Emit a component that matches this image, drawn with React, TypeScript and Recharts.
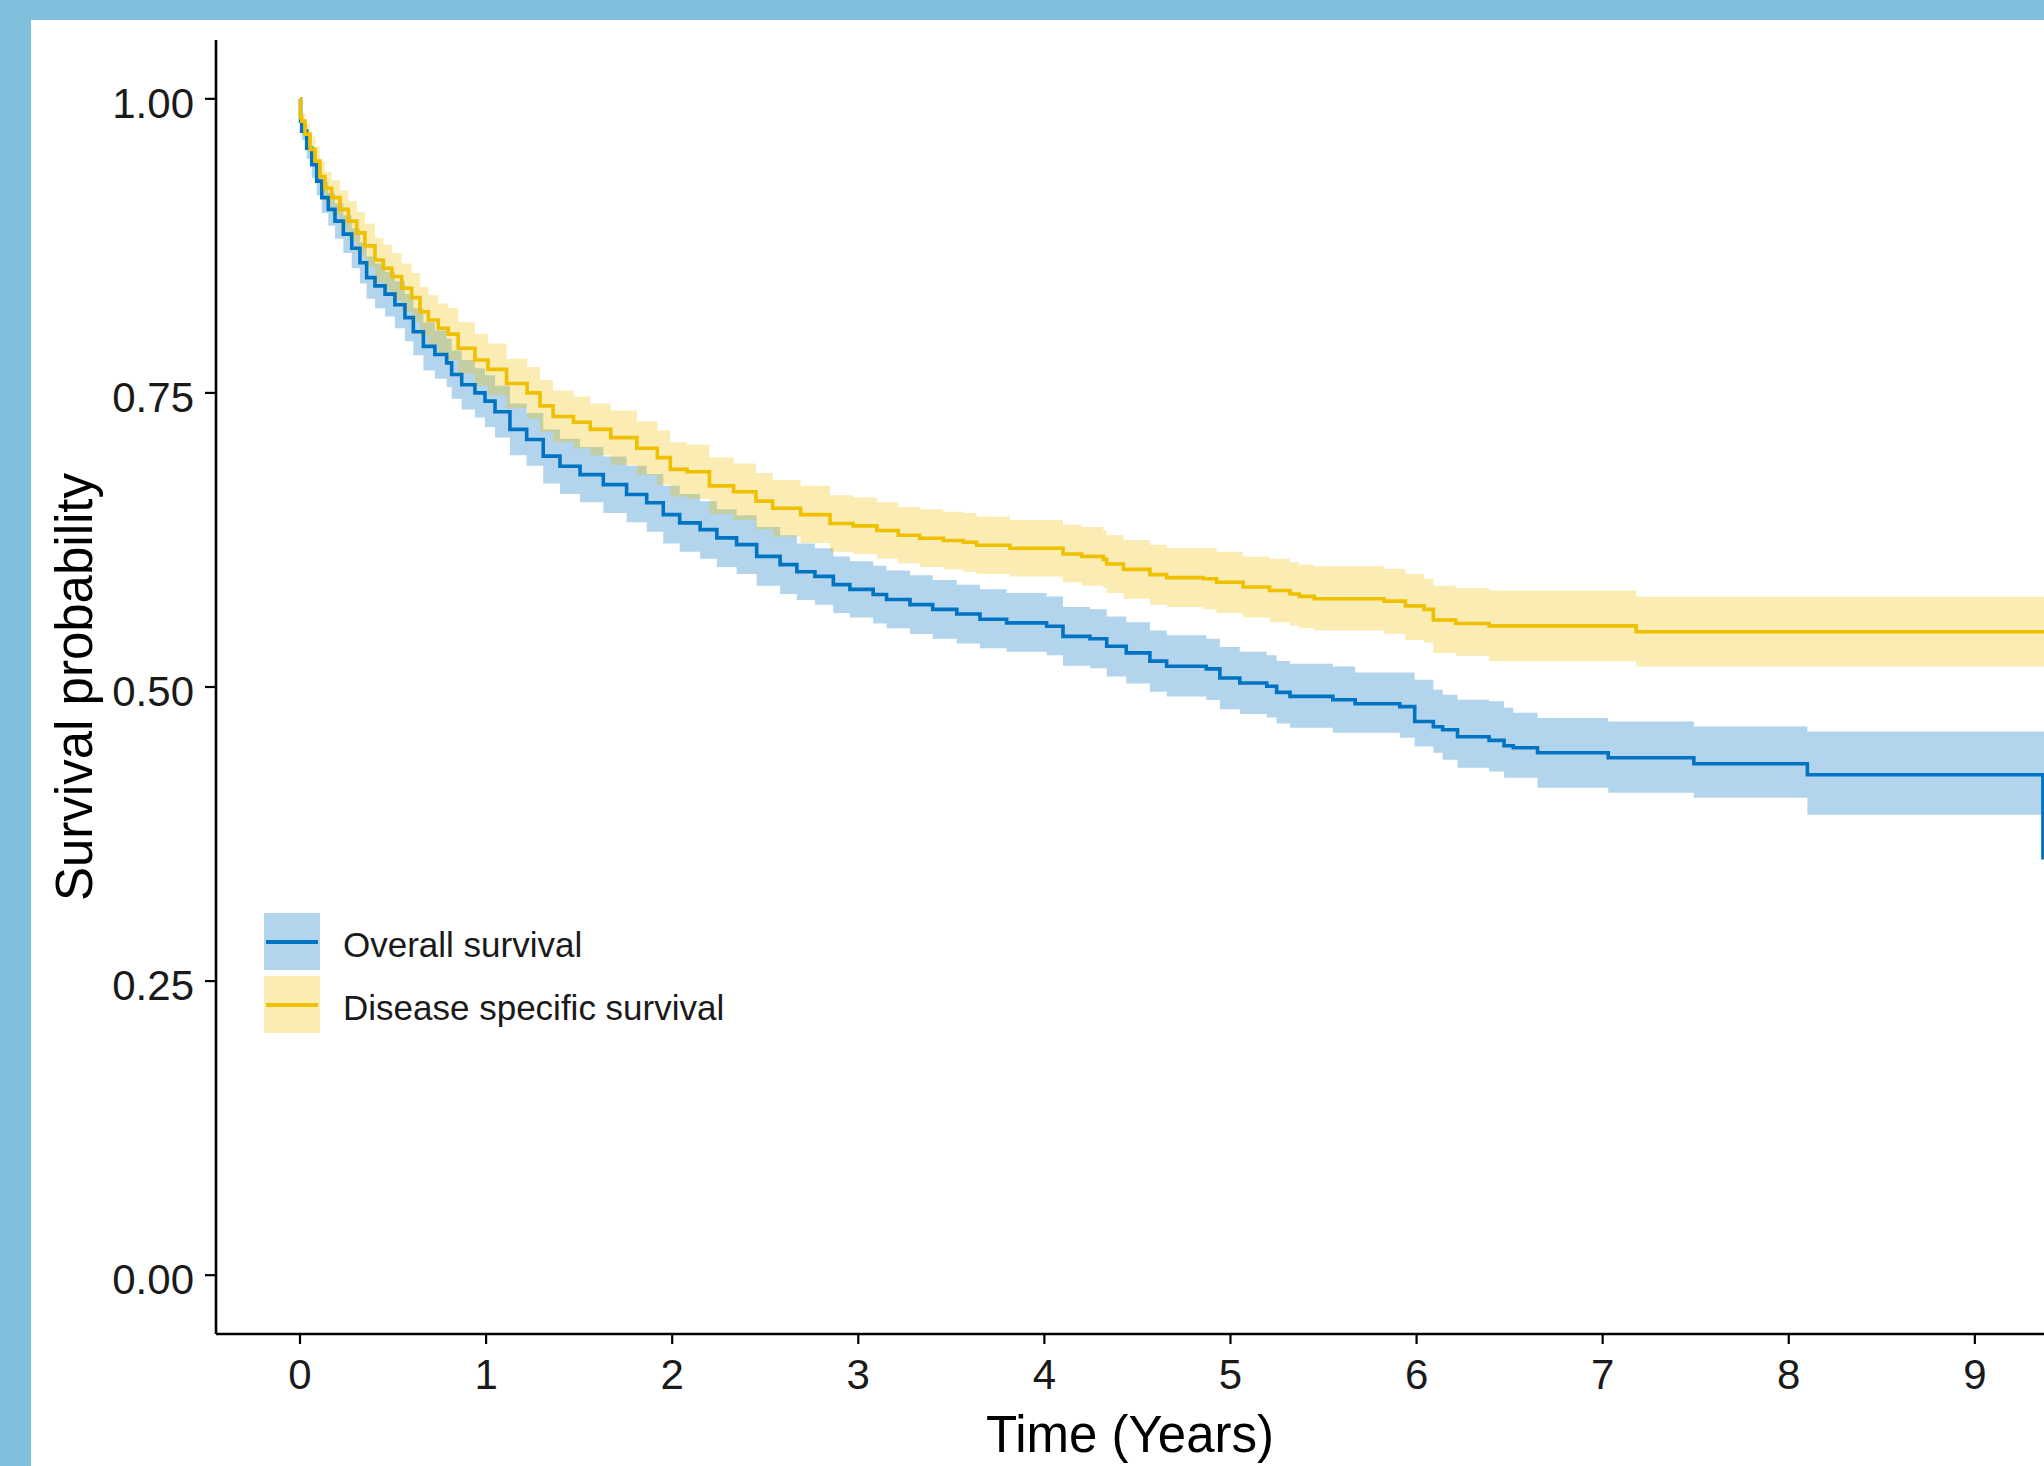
import React from 'react';
import { ComposedChart, Line, Area, XAxis, YAxis, Legend } from 'recharts';

// ---------- Data ----------
const xTicks = [0, 1, 2, 3, 4, 5, 6, 7, 8, 9];
const yTicks = [0, 0.25, 0.5, 0.75, 1];
const seriesNames = ['Overall survival', 'Disease specific survival'];

// Overall survival (blue)
const osTime = [0, 0.003, 0.009, 0.036, 0.063, 0.09, 0.117, 0.152, 0.188, 0.233, 0.278, 0.322, 0.358, 0.403, 0.457, 0.51, 0.564, 0.609, 0.663, 0.725, 0.788, 0.815, 0.869, 0.94, 0.994, 1.048, 1.128, 1.218, 1.307, 1.397, 1.505, 1.63, 1.755, 1.863, 1.952, 2.04, 2.15, 2.24, 2.346, 2.454, 2.58, 2.67, 2.767, 2.866, 2.955, 3.08, 3.152, 3.278, 3.4, 3.529, 3.654, 3.797, 4.012, 4.1, 4.245, 4.335, 4.44, 4.567, 4.657, 4.87, 4.943, 5.05, 5.195, 5.248, 5.32, 5.55, 5.67, 5.91, 5.99, 6.09, 6.14, 6.22, 6.39, 6.47, 6.52, 6.65, 7.03, 7.49, 8.1, 9.366, 9.372];
const osSurv = [1, 0.981, 0.9725, 0.958, 0.944, 0.93, 0.916, 0.906, 0.896, 0.885, 0.873, 0.8606, 0.848, 0.841, 0.834, 0.825, 0.814, 0.802, 0.7896, 0.7826, 0.7755, 0.7656, 0.757, 0.75, 0.743, 0.734, 0.719, 0.7104, 0.6963, 0.6876, 0.6805, 0.672, 0.6637, 0.6566, 0.6465, 0.6395, 0.6338, 0.6268, 0.621, 0.611, 0.604, 0.598, 0.594, 0.587, 0.583, 0.5786, 0.5744, 0.57, 0.566, 0.562, 0.5576, 0.5545, 0.5516, 0.543, 0.541, 0.5346, 0.529, 0.522, 0.5177, 0.5154, 0.5077, 0.5034, 0.5006, 0.4954, 0.492, 0.4892, 0.4858, 0.4833, 0.4707, 0.4662, 0.4637, 0.4577, 0.4546, 0.45, 0.4484, 0.4441, 0.4399, 0.4348, 0.4254, 0.3548, 0.3548];
const osLower = [1, 0.975, 0.965, 0.949, 0.933, 0.918, 0.903, 0.892, 0.881, 0.869, 0.856, 0.843, 0.83, 0.822, 0.815, 0.805, 0.794, 0.782, 0.769, 0.762, 0.755, 0.745, 0.736, 0.729, 0.721, 0.712, 0.697, 0.688, 0.673, 0.664, 0.657, 0.648, 0.64, 0.632, 0.622, 0.615, 0.609, 0.602, 0.596, 0.586, 0.579, 0.574, 0.57, 0.563, 0.559, 0.554, 0.55, 0.545, 0.541, 0.537, 0.533, 0.53, 0.527, 0.518, 0.516, 0.509, 0.503, 0.496, 0.492, 0.489, 0.481, 0.477, 0.474, 0.469, 0.4654, 0.4611, 0.4611, 0.4569, 0.4495, 0.4441, 0.4382, 0.4314, 0.4282, 0.4229, 0.4229, 0.4144, 0.4101, 0.4059, 0.3914, 0.3914, 0.3914];
const osUpper = [1, 0.987, 0.98, 0.967, 0.955, 0.942, 0.929, 0.92, 0.911, 0.901, 0.89, 0.878, 0.866, 0.86, 0.853, 0.845, 0.834, 0.822, 0.81, 0.803, 0.796, 0.786, 0.778, 0.771, 0.765, 0.756, 0.741, 0.733, 0.719, 0.711, 0.704, 0.696, 0.688, 0.681, 0.671, 0.664, 0.658, 0.651, 0.646, 0.636, 0.629, 0.622, 0.618, 0.611, 0.607, 0.603, 0.599, 0.595, 0.591, 0.587, 0.583, 0.58, 0.577, 0.568, 0.566, 0.56, 0.555, 0.548, 0.544, 0.541, 0.534, 0.53, 0.527, 0.522, 0.5198, 0.5175, 0.5124, 0.5124, 0.5062, 0.4977, 0.4934, 0.4892, 0.4878, 0.4824, 0.4782, 0.4736, 0.4707, 0.4665, 0.4622, 0.4622, 0.4622];

// Disease specific survival (yellow)
const dssTime = [0, 0.003, 0.009, 0.027, 0.054, 0.081, 0.107, 0.134, 0.17, 0.215, 0.26, 0.305, 0.349, 0.403, 0.448, 0.493, 0.546, 0.6, 0.645, 0.69, 0.743, 0.797, 0.85, 0.94, 1.01, 1.11, 1.22, 1.29, 1.36, 1.47, 1.56, 1.67, 1.81, 1.92, 1.99, 2.08, 2.2, 2.33, 2.45, 2.54, 2.69, 2.848, 2.973, 3.1, 3.215, 3.33, 3.457, 3.565, 3.636, 3.815, 4.1, 4.2, 4.317, 4.335, 4.425, 4.567, 4.657, 4.854, 4.925, 5.068, 5.21, 5.32, 5.37, 5.45, 5.825, 5.94, 6.04, 6.09, 6.21, 6.39, 7.18, 9.372];
const dssSurv = [1, 0.984, 0.981, 0.97, 0.957, 0.947, 0.934, 0.924, 0.916, 0.906, 0.896, 0.886, 0.875, 0.863, 0.856, 0.849, 0.839, 0.831, 0.819, 0.812, 0.805, 0.8, 0.788, 0.778, 0.77, 0.758, 0.75, 0.739, 0.73, 0.725, 0.719, 0.712, 0.703, 0.695, 0.685, 0.683, 0.671, 0.666, 0.658, 0.652, 0.6465, 0.639, 0.637, 0.633, 0.629, 0.6265, 0.6245, 0.623, 0.6205, 0.618, 0.613, 0.611, 0.6085, 0.6045, 0.6, 0.5955, 0.593, 0.592, 0.589, 0.585, 0.582, 0.579, 0.577, 0.575, 0.573, 0.569, 0.566, 0.557, 0.554, 0.552, 0.547, 0.547];
const dssLower = [1, 0.978, 0.974, 0.961, 0.946, 0.935, 0.921, 0.91, 0.901, 0.89, 0.879, 0.868, 0.857, 0.844, 0.837, 0.829, 0.819, 0.81, 0.798, 0.791, 0.784, 0.778, 0.766, 0.756, 0.748, 0.737, 0.728, 0.717, 0.708, 0.703, 0.697, 0.689, 0.68, 0.672, 0.662, 0.66, 0.647, 0.642, 0.634, 0.628, 0.6225, 0.615, 0.613, 0.609, 0.605, 0.602, 0.6, 0.598, 0.596, 0.594, 0.589, 0.586, 0.584, 0.58, 0.575, 0.57, 0.568, 0.566, 0.563, 0.559, 0.555, 0.552, 0.55, 0.548, 0.5453, 0.54, 0.5377, 0.529, 0.5266, 0.5218, 0.5175, 0.5175];
const dssUpper = [1, 0.99, 0.988, 0.979, 0.968, 0.959, 0.947, 0.938, 0.931, 0.922, 0.913, 0.904, 0.894, 0.882, 0.876, 0.869, 0.86, 0.852, 0.84, 0.833, 0.826, 0.822, 0.81, 0.8, 0.792, 0.779, 0.772, 0.761, 0.752, 0.747, 0.741, 0.735, 0.726, 0.718, 0.708, 0.706, 0.695, 0.69, 0.682, 0.676, 0.671, 0.663, 0.661, 0.657, 0.653, 0.651, 0.649, 0.648, 0.645, 0.642, 0.638, 0.636, 0.633, 0.629, 0.625, 0.621, 0.618, 0.618, 0.615, 0.611, 0.609, 0.606, 0.604, 0.6026, 0.6006, 0.596, 0.592, 0.586, 0.584, 0.582, 0.577, 0.577];

const osData = osTime.map((t, i) => ({ t, s: osSurv[i], band: [osLower[i], osUpper[i]] }));
const dssData = dssTime.map((t, i) => ({ t, s: dssSurv[i], band: [dssLower[i], dssUpper[i]] }));

// ---------- Styles ----------
const FRAME = '#80C0DC';
const BLUE = '#0073C2';
const YELLOW = '#EFC000';
const FONT = '"Liberation Sans", Arial, sans-serif';
const TEXT = '#1a1a1a';

const XTitle = (props: any) => {
  const vb = props.viewBox || {};
  return (
    <text x={vb.x + vb.width / 2} y={vb.y + 118} textAnchor="middle" fontFamily={FONT} fontSize={51} fill="#000">
      Time (Years)
    </text>
  );
};

const YTitle = (props: any) => {
  const vb = props.viewBox || {};
  const cx = vb.x + 61;
  const cy = vb.y + vb.height / 2;
  return (
    <text x={cx} y={cy} transform={`rotate(-90, ${cx}, ${cy})`} textAnchor="middle" fontFamily={FONT} fontSize={51} fill="#000">
      Survival probability
    </text>
  );
};

const LegendBox = () => {
  const items = [
    { name: seriesNames[0], line: BLUE, fill: 'rgba(0,115,194,0.3)' },
    { name: seriesNames[1], line: YELLOW, fill: 'rgba(239,192,0,0.3)' },
  ];
  return (
    <div style={{ fontFamily: FONT }}>
      {items.map((it, i) => (
        <div key={it.name} style={{ display: 'flex', alignItems: 'center', height: 57, marginBottom: i === 0 ? 6 : 0 }}>
          <div style={{ width: 56, height: 57, background: it.fill, position: 'relative' }}>
            <div style={{ position: 'absolute', left: 2, right: 2, top: 27, height: 4, background: it.line }} />
          </div>
          <span style={{ marginLeft: 23, fontSize: 35, color: TEXT, whiteSpace: 'nowrap', position: 'relative', top: 3 }}>{it.name}</span>
        </div>
      ))}
    </div>
  );
};

export default function App() {
  return (
    <div style={{ position: 'absolute', left: 0, top: 0, width: 2044, height: 1466, background: FRAME, overflow: 'hidden' }}>
      <div style={{ position: 'absolute', left: 31, top: 20, width: 2013, height: 1446, background: '#fff' }}>
        <ComposedChart width={2013} height={1446} margin={{ top: 20, right: 0, bottom: 0, left: 0 }}>
          <XAxis
            dataKey="t"
            type="number"
            domain={[-0.4514, 9.3716]}
            ticks={xTicks}
            interval={0}
            allowDataOverflow
            height={132}
            tickSize={10}
            tickMargin={15}
            axisLine={{ stroke: '#000', strokeWidth: 2.6 }}
            tickLine={{ stroke: '#000', strokeWidth: 2.2 }}
            tick={{ fontSize: 42, fill: TEXT, fontFamily: FONT }}
            label={<XTitle />}
          />
          <YAxis
            type="number"
            domain={[-0.05, 1.05]}
            ticks={yTicks}
            interval={0}
            allowDataOverflow
            width={185}
            tickSize={11}
            tickMargin={11}
            tickFormatter={(v: number) => v.toFixed(2)}
            axisLine={{ stroke: '#000', strokeWidth: 2.6 }}
            tickLine={{ stroke: '#000', strokeWidth: 2.2 }}
            tick={{ fontSize: 42, fill: TEXT, fontFamily: FONT, dy: 4 }}
            label={<YTitle />}
          />
          <Area data={osData} dataKey="band" type="stepAfter" stroke="none" fill={BLUE} fillOpacity={0.3} isAnimationActive={false} legendType="none" />
          <Area data={dssData} dataKey="band" type="stepAfter" stroke="none" fill={YELLOW} fillOpacity={0.3} isAnimationActive={false} legendType="none" />
          <Line data={osData} dataKey="s" name={seriesNames[0]} type="stepAfter" stroke={BLUE} strokeWidth={3.6} dot={false} activeDot={false} isAnimationActive={false} />
          <Line data={dssData} dataKey="s" name={seriesNames[1]} type="stepAfter" stroke={YELLOW} strokeWidth={3.6} dot={false} activeDot={false} isAnimationActive={false} />
          <Legend
            content={<LegendBox />}
            layout="vertical"
            align="center"
            verticalAlign="middle"
            wrapperStyle={{ position: 'absolute', left: 233, top: 893, width: 600 }}
          />
        </ComposedChart>
      </div>
    </div>
  );
}
